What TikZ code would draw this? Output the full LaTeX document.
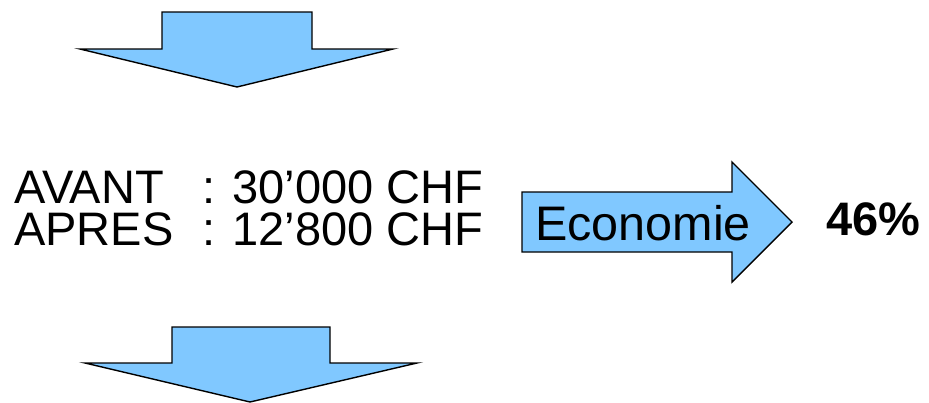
\documentclass[tikz,border=0pt]{standalone}
\usepackage{fontspec}
\setmainfont{Liberation Sans}
\usepackage{tikz}

\definecolor{arrowblue}{RGB}{128,200,255}

\tikzset{
  bigarrow/.style={draw=black, line width=1.4pt, fill=arrowblue, line join=miter},
  bigtext/.style={inner sep=0pt, anchor=base west, font=\fontsize{47}{52}\selectfont},
  costtext/.style={bigtext, align=left, font=\fontsize{47}{42}\selectfont}
}

\begin{document}
\begin{tikzpicture}[x=1pt,y=-1pt]

  \def\xmax{929}
  \def\ymax{402}

  % frame
  \useasboundingbox (0,0) rectangle (\xmax,\ymax);

  % arrow at the top
  \draw[bigarrow] (162,12) -- (312,12) -- (312,49) -- (393,49) -- (237,87)
    -- (80,49) -- (162,49) -- cycle;

  % arrow at the bottom
  \draw[bigarrow] (172,327) -- (330,327) -- (330,363) -- (417,363) -- (250,402)
    -- (85,363) -- (172,363) -- cycle;

  % costs (base = last line)
  \node[costtext] (labels) at (14,245) {AVANT\\APRES};
  \node[costtext] (values) at (202,245) {: 30’000 CHF\\: 12’800 CHF};

  % saving arrow
  \draw[bigarrow] (522,192) -- (732,192) -- (732,162) -- (792,222) -- (732,282)
    -- (732,252) -- (522,252) -- cycle;
  \node[bigtext, font=\fontsize{48.5}{54}\selectfont] (economie) at (535,240) {Economie};

  \node[bigtext, font=\fontsize{47}{52}\selectfont\bfseries] (gain) at (826,235) {46\%};

\end{tikzpicture}
\end{document}
